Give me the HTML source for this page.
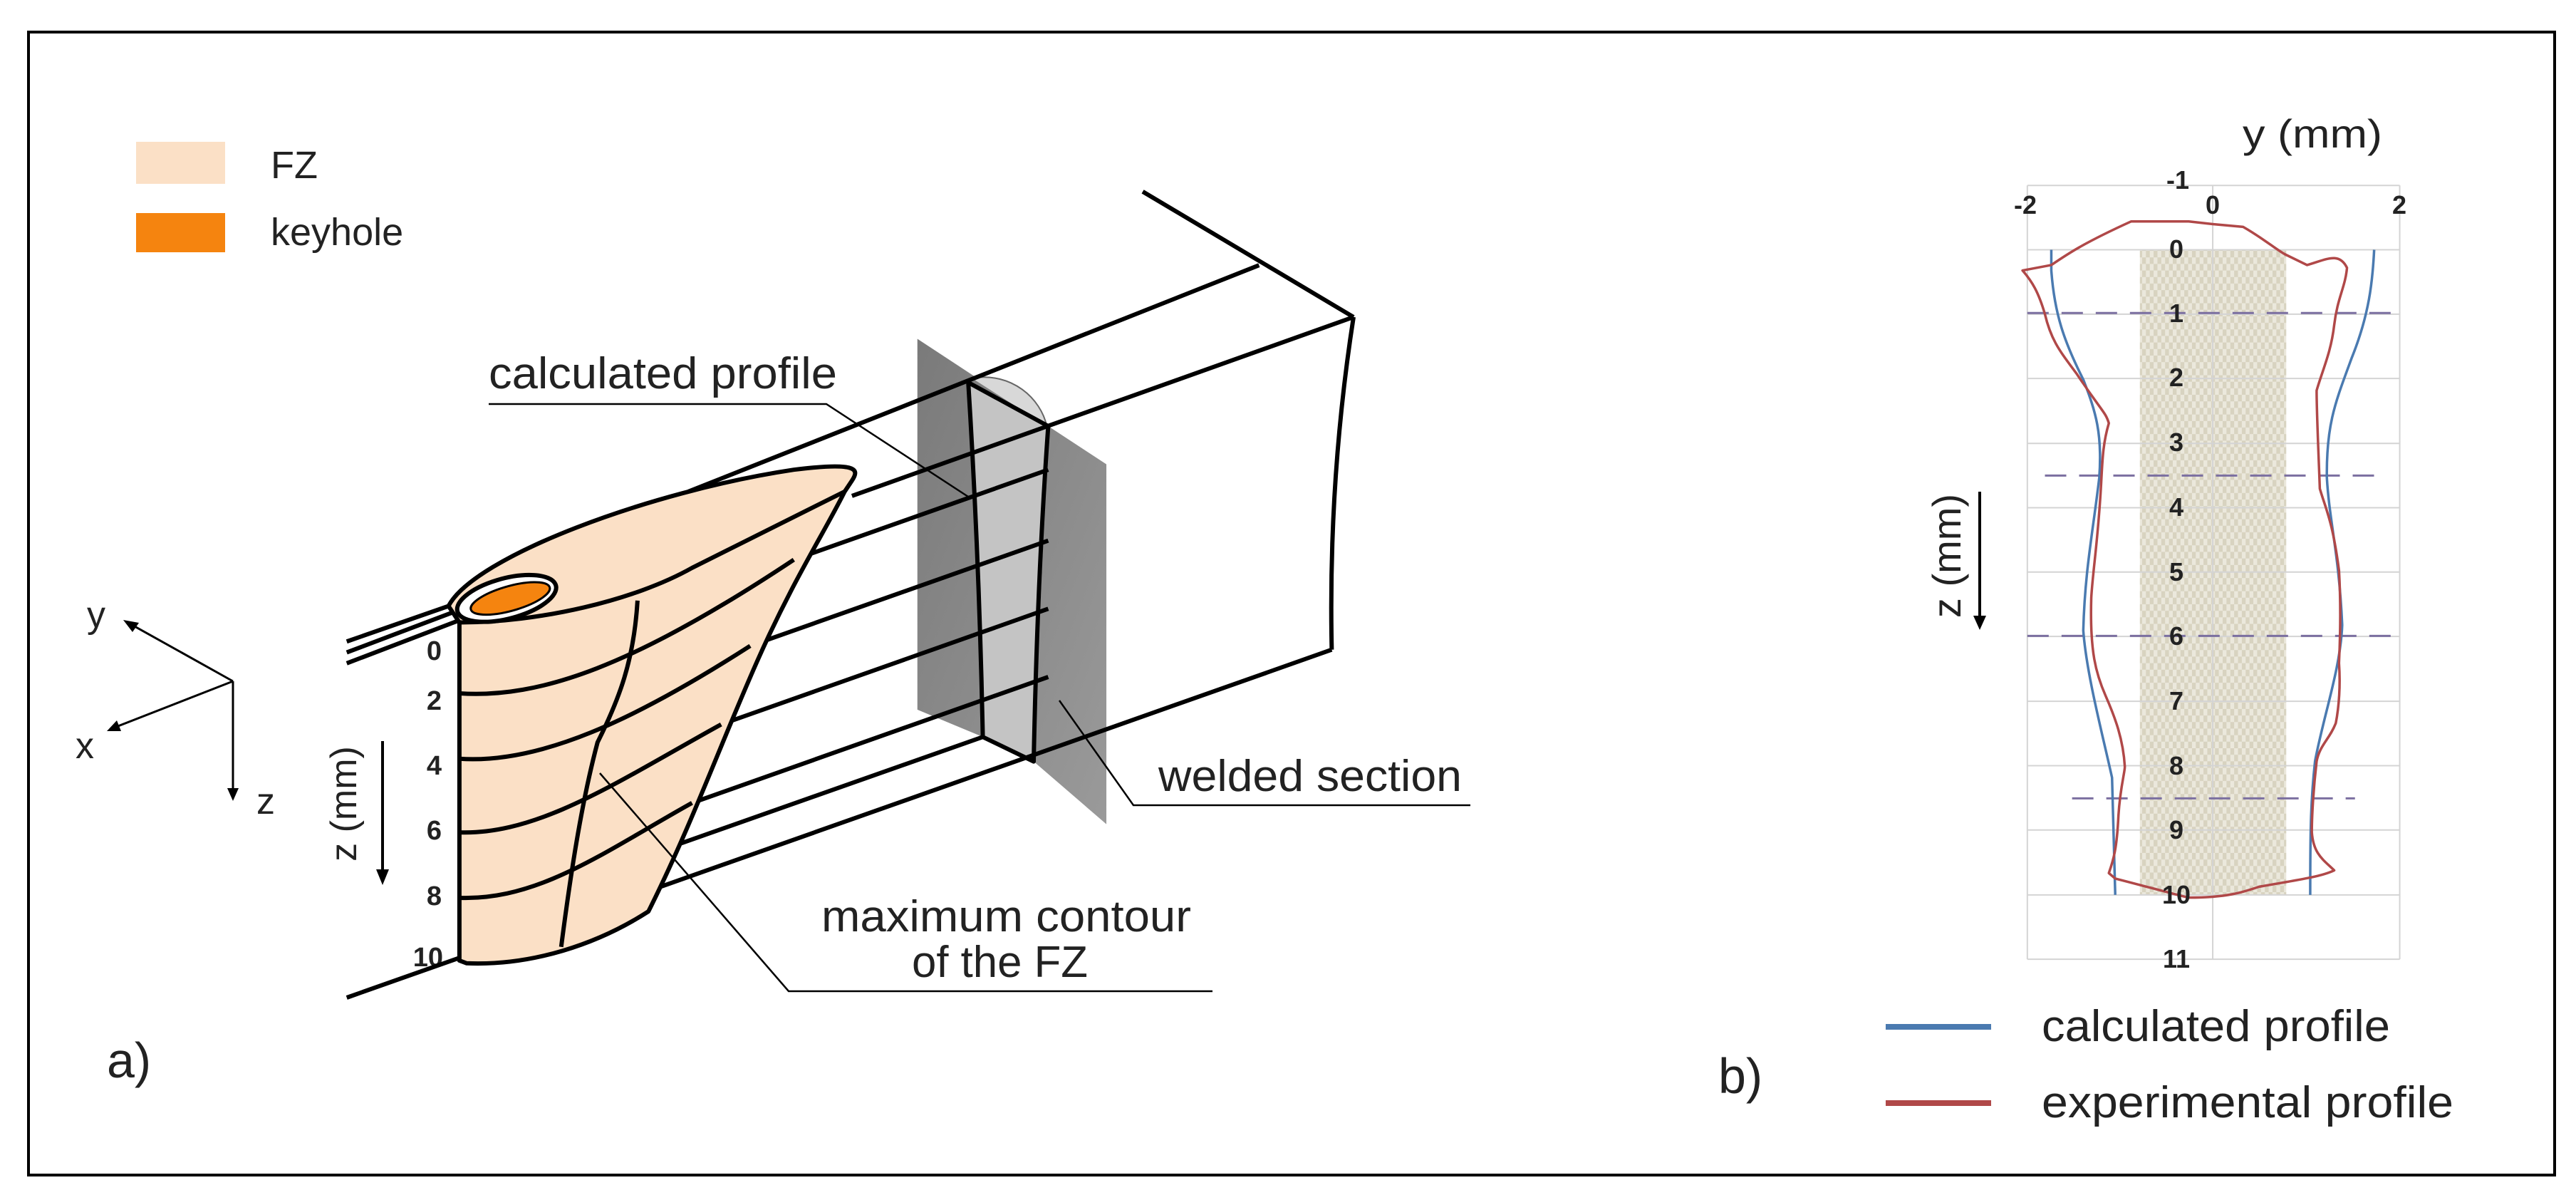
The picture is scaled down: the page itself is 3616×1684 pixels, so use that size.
<!DOCTYPE html>
<html><head><meta charset="utf-8"><style>
html,body{margin:0;padding:0;background:#fff}
svg{display:block}
text{font-family:"Liberation Sans",sans-serif;fill:#222}
</style></head><body>
<svg width="3616" height="1684" viewBox="0 0 3616 1684" xmlns="http://www.w3.org/2000/svg">
<defs>
<pattern id="chk" width="24" height="24" patternUnits="userSpaceOnUse">
<rect width="24" height="24" fill="#ebe8dc"/><rect width="12" height="12" fill="#d8d3c0"/><rect x="12" y="12" width="12" height="12" fill="#d8d3c0"/>
</pattern>
<linearGradient id="gr" x1="0" y1="0" x2="1" y2="1"><stop offset="0" stop-color="#7a7a7a"/><stop offset="1" stop-color="#9a9a9a"/></linearGradient>
</defs>
<rect x="40" y="45" width="3546" height="1604" fill="none" stroke="#000" stroke-width="4"/>

<rect x="191" y="199" width="125" height="59" fill="#fbe0c6"/>
<rect x="191" y="299" width="125" height="55" fill="#f5840f"/>
<text x="380" y="250" font-size="54">FZ</text>
<text x="380" y="344" font-size="54">keyhole</text>

<g stroke="#000" stroke-width="3" fill="none">
<line x1="327" y1="956" x2="180" y2="874"/>
<line x1="327" y1="956" x2="158" y2="1022"/>
<line x1="327" y1="956" x2="327" y2="1115"/>
</g>
<g fill="#000">
<polygon points="173,870 195,874 186,887"/>
<polygon points="150,1026 164,1011 170,1026"/>
<polygon points="327,1124 319,1106 335,1106"/>
</g>
<text x="122" y="880" font-size="52">y</text>
<text x="106" y="1064" font-size="52">x</text>
<text x="360" y="1142" font-size="52">z</text>

<text transform="translate(500,1128) rotate(-90)" font-size="52" text-anchor="middle">z (mm)</text>
<line x1="537" y1="1040" x2="537" y2="1225" stroke="#000" stroke-width="4"/>
<polygon points="537,1242 528,1220 546,1220" fill="#000"/>
<g font-size="38" font-weight="bold" text-anchor="end">
<text x="620" y="926">0</text><text x="620" y="996">2</text><text x="620" y="1087">4</text>
<text x="620" y="1178">6</text><text x="620" y="1270">8</text><text x="622" y="1356">10</text>
</g>

<g transform="translate(400,200) scale(1.0204,0.7653)" fill="none" stroke="#000" stroke-width="6" stroke-linejoin="round">
<polygon points="870,360 950,430 1050,520 1130,590 1130,1250 1030,1135 960,1090 870,1040" fill="url(#gr)" stroke="none"/>
<polygon points="940,440 1050,520 1030,1135 960,1090" fill="#c4c4c4" stroke="none"/>
<path d="M945,432 C1000,420 1040,470 1048,520" fill="#d8d8d8" stroke="#666" stroke-width="2" vector-effect="non-scaling-stroke"/>
<path d="M1180,90 L1470,320" vector-effect="non-scaling-stroke"/>
<path d="M1340,225 L555,640" vector-effect="non-scaling-stroke"/>
<path d="M1470,320 L780,648" vector-effect="non-scaling-stroke"/>
<path d="M1470,320 Q1435,620 1440,930" vector-effect="non-scaling-stroke"/>
<path d="M1440,930 L85,1568" vector-effect="non-scaling-stroke"/>
<path d="M225,850 L85,915 M230,862 L85,935 M240,876 L85,955" vector-effect="non-scaling-stroke"/>
<path d="M940,440 Q955,760 960,1090 L1030,1135 Q1035,800 1050,520 L940,440" vector-effect="non-scaling-stroke"/>
<path d="M700,765 L1050,600 M640,923 L1050,730 M600,1067 L1050,855 M560,1211 L1050,980 M545,1285 L960,1090" vector-effect="non-scaling-stroke"/>
<path d="M225,850 C260,760 500,640 700,600 C790,585 790,600 780,620 L770,640 C740,720 700,800 650,950 C600,1100 560,1250 500,1410 C430,1470 340,1510 250,1505 L240,1500 L240,880 Z" fill="#fbe0c6" vector-effect="non-scaling-stroke"/>
<path d="M240,880 C350,880 480,840 560,780 C650,720 740,660 770,640" vector-effect="non-scaling-stroke"/>
<path d="M240,1010 C350,1020 480,960 700,765 M240,1130 C350,1140 480,1060 640,923 M240,1265 C350,1270 460,1170 600,1067 M240,1385 C350,1390 440,1300 560,1211" vector-effect="non-scaling-stroke"/>
<path d="M485,840 C480,950 460,1020 430,1100 C410,1200 395,1320 380,1475" vector-effect="non-scaling-stroke"/>
<ellipse cx="305" cy="836" rx="72" ry="36" transform="rotate(-22 305 836)" fill="#fff" vector-effect="non-scaling-stroke"/>
<ellipse cx="310" cy="836" rx="58" ry="22" transform="rotate(-22 310 836)" fill="#f5840f" stroke-width="3" vector-effect="non-scaling-stroke"/>
</g>

<g stroke="#000" stroke-width="2.5" fill="none">
<path d="M686,567 L1160,567 L1359,697"/>
<path d="M2064,1130 L1591,1130 L1487,983"/>
<path d="M1702,1391 L1107,1391 L842,1085"/>
</g>
<text x="686" y="545" font-size="62" textLength="489" lengthAdjust="spacingAndGlyphs">calculated profile</text>
<text x="1626" y="1110" font-size="62" textLength="426" lengthAdjust="spacingAndGlyphs">welded section</text>
<text x="1153" y="1307" font-size="62" textLength="519" lengthAdjust="spacingAndGlyphs">maximum contour</text>
<text x="1280" y="1371" font-size="62" textLength="247" lengthAdjust="spacingAndGlyphs">of the FZ</text>
<text x="150" y="1512" font-size="70">a)</text>
<text x="2412" y="1534" font-size="70">b)</text>

<g transform="translate(2700,150) scale(0.4487,0.7653)" fill="none">
<rect x="677" y="262" width="458" height="1183" fill="url(#chk)"/>
<g stroke="#d4d4d4" stroke-width="2">
<path d="M325,144H1490 M325,262H1490 M325,380H1490 M325,498H1490 M325,617H1490 M325,735H1490 M325,853H1490 M325,971H1490 M325,1090H1490 M325,1208H1490 M325,1326H1490 M325,1445H1490 M325,1563H1490" vector-effect="non-scaling-stroke"/>
<path d="M325,144V1563 M905,144V1563 M1490,144V1563" vector-effect="non-scaling-stroke"/>
</g>
<g stroke="#7b6fa0" stroke-width="3" stroke-dasharray="30,18">
<path d="M325,378H1490 M380,676H1430 M325,970H1490 M465,1268H1350" vector-effect="non-scaling-stroke"/>
</g>
<g stroke="#4a7ab0" stroke-width="3.5">
<path d="M400,262 L400,300 C410,380 440,430 500,500 C540,560 560,600 550,680 C530,780 505,850 500,960 C510,1040 560,1150 590,1230 L600,1445" vector-effect="non-scaling-stroke"/>
<path d="M1410,262 C1405,320 1395,380 1340,460 C1290,540 1260,580 1262,680 C1270,760 1300,820 1310,950 C1305,1030 1250,1120 1225,1200 C1212,1270 1210,1320 1210,1445" vector-effect="non-scaling-stroke"/>
</g>
<path stroke="#b04848" stroke-width="3.5" stroke-linejoin="round" vector-effect="non-scaling-stroke" d="M310,300 L400,290 C450,270 500,250 650,210 L830,210 L905,215 L1000,220 C1060,240 1100,260 1130,270 L1200,290 C1260,280 1300,265 1325,295 C1320,330 1295,350 1285,400 C1275,450 1250,480 1230,520 C1230,560 1235,620 1240,700 C1260,740 1280,760 1300,850 C1305,900 1305,960 1300,1020 C1305,1060 1300,1100 1290,1130 C1270,1160 1240,1170 1230,1200 C1220,1250 1215,1300 1215,1330 C1220,1370 1250,1380 1285,1400 C1250,1410 1200,1415 1050,1430 C1000,1440 950,1450 830,1450 C760,1440 700,1430 600,1415 L580,1405 C595,1380 605,1360 610,1300 C615,1250 630,1220 630,1210 C625,1160 600,1120 570,1080 C540,1040 520,1000 525,900 C530,850 545,800 555,700 C560,650 560,620 580,580 C570,560 560,560 480,490 C430,450 400,430 380,380 C360,340 340,320 310,300 Z"/>
</g>
<g font-size="36" font-weight="bold" text-anchor="middle">
<text x="2843" y="300" fill="#555">-2</text><text x="3106" y="300" fill="#555">0</text><text x="3368" y="300" fill="#555">2</text>
<text x="3057" y="265" fill="#555">-1</text>
<text x="3055" y="362" fill="#555">0</text><text x="3055" y="452" fill="#555">1</text><text x="3055" y="542" fill="#555">2</text>
<text x="3055" y="633" fill="#555">3</text><text x="3055" y="724" fill="#555">4</text><text x="3055" y="815" fill="#555">5</text>
<text x="3055" y="905" fill="#555">6</text><text x="3055" y="996" fill="#555">7</text><text x="3055" y="1087" fill="#555">8</text>
<text x="3055" y="1177" fill="#555">9</text><text x="3055" y="1268" fill="#555">10</text><text x="3055" y="1358" fill="#555">11</text>
</g>
<text x="3148" y="207" font-size="56" textLength="196" lengthAdjust="spacingAndGlyphs">y (mm)</text>
<text transform="translate(2752,780) rotate(-90)" font-size="56" text-anchor="middle">z (mm)</text>
<line x1="2779" y1="690" x2="2779" y2="868" stroke="#000" stroke-width="4"/>
<polygon points="2779,884 2770,864 2788,864" fill="#000"/>
<line x1="2647" y1="1441" x2="2795" y2="1441" stroke="#4a7ab0" stroke-width="8"/>
<line x1="2647" y1="1548" x2="2795" y2="1548" stroke="#b04848" stroke-width="8"/>
<text x="2866" y="1461" font-size="62" textLength="489" lengthAdjust="spacingAndGlyphs">calculated profile</text>
<text x="2866" y="1568" font-size="62" textLength="578" lengthAdjust="spacingAndGlyphs">experimental profile</text>
</svg>
</body></html>
